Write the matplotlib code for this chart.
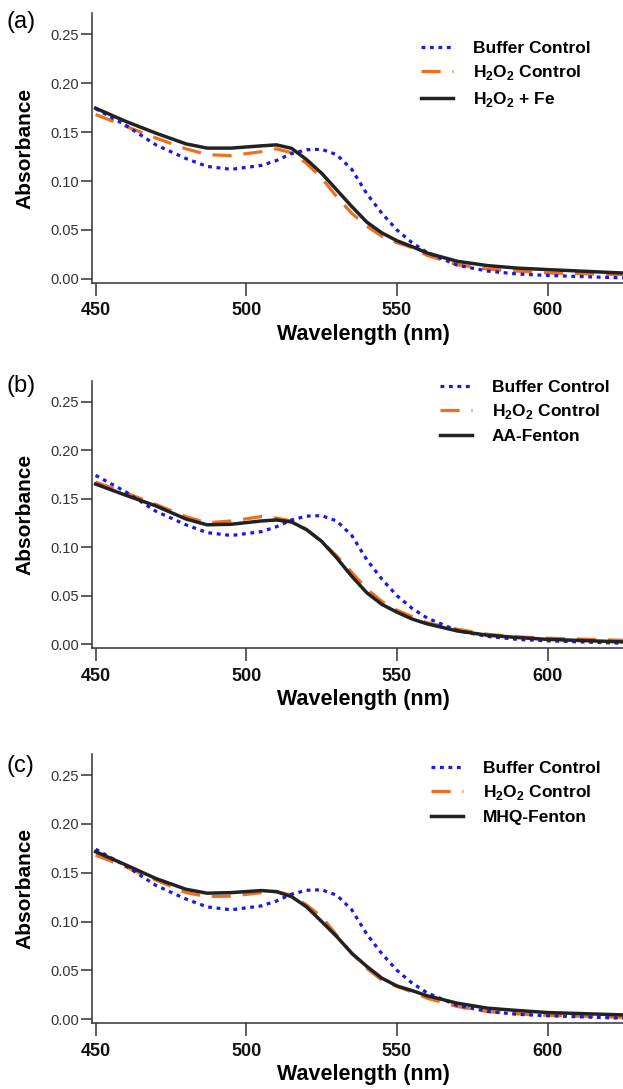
import numpy as np
import matplotlib
matplotlib.use("Agg")
import matplotlib.pyplot as plt

plt.rcParams['font.family'] = ['Liberation Sans', 'DejaVu Sans']
plt.rcParams['mathtext.fontset'] = 'custom'
plt.rcParams['mathtext.rm'] = 'Liberation Sans:bold'
plt.rcParams['mathtext.bf'] = 'Liberation Sans:bold'

# wavelength grid (nm) shared by all traces
wl = [450, 460, 470, 480, 487, 495, 505, 510, 515, 520, 525, 530, 535,
      540, 545, 550, 555, 560, 570, 580, 590, 600, 625]

# buffer control, same in all three panels
buffer_ctrl = [0.174, 0.157, 0.137, 0.123, 0.115, 0.112, 0.116, 0.121, 0.128,
               0.132, 0.1325, 0.127, 0.112, 0.087, 0.067, 0.050, 0.037, 0.027,
               0.014, 0.008, 0.005, 0.0035, 0.001]

# (a)
h2o2_a = [0.168, 0.156, 0.144, 0.133, 0.127, 0.126, 0.130, 0.133, 0.129, 0.118,
          0.103, 0.084, 0.067, 0.054, 0.0435, 0.037, 0.032, 0.024, 0.0146,
          0.010, 0.008, 0.006, 0.0044]
fe_a = [0.1745, 0.161, 0.149, 0.138, 0.1337, 0.1337, 0.136, 0.137, 0.1335, 0.122,
        0.108, 0.091, 0.074, 0.058, 0.047, 0.039, 0.033, 0.0265, 0.018, 0.0136,
        0.011, 0.0095, 0.006]

# (b)
h2o2_b = [0.167, 0.156, 0.144, 0.1315, 0.125, 0.127, 0.1315, 0.130, 0.127, 0.118,
          0.106, 0.091, 0.074, 0.057, 0.044, 0.035, 0.0285, 0.022, 0.0155,
          0.0103, 0.0076, 0.0062, 0.004]
aa_b = [0.165, 0.1535, 0.1425, 0.129, 0.123, 0.1236, 0.127, 0.128, 0.126, 0.118,
        0.106, 0.089, 0.070, 0.053, 0.041, 0.033, 0.026, 0.021, 0.0137, 0.0093,
        0.0069, 0.005, 0.0024]

# (c)
h2o2_c = [0.168, 0.156, 0.1425, 0.1296, 0.1255, 0.126, 0.1296, 0.1306, 0.127,
          0.117, 0.105, 0.086, 0.0675, 0.052, 0.040, 0.0334, 0.028, 0.0215,
          0.013, 0.0078, 0.0055, 0.004, 0.002]
mhq_c = [0.1715, 0.158, 0.144, 0.133, 0.129, 0.1296, 0.1317, 0.1306, 0.1255,
         0.115, 0.100, 0.0846, 0.0675, 0.054, 0.042, 0.034, 0.0293, 0.024,
         0.0164, 0.0113, 0.0089, 0.0068, 0.0044]

panels = [
    ("(a)", h2o2_a, fe_a, r"H$_\mathbf{2}$O$_\mathbf{2}$ + Fe"),
    ("(b)", h2o2_b, aa_b, "AA-Fenton"),
    ("(c)", h2o2_c, mhq_c, "MHQ-Fenton"),
]
h2o2_lbl = r"H$_\mathbf{2}$O$_\mathbf{2}$ Control"

W, H = 623, 1089
fig = plt.figure(figsize=(W / 100, H / 100), dpi=100)

# pixel layout per panel: axes top, axes bottom, legend handle x, first legend row y, tag y
boxes = [(13.3, 283.0, 421, 51, 22),
         (380.7, 648.3, 440, 390, 386),
         (754.0, 1023.3, 431, 771, 766)]
left_px = 91.7
aw = W - left_px

blue = '#1a1ae6'
orange = '#f07020'
black = '#222222'

for (tag, h2o2, sample, sample_lbl), (top, bot, legx, legy, tagy) in zip(panels, boxes):
    ah = bot - top
    ax = fig.add_axes([left_px / W, 1 - bot / H, aw / W, ah / H])
    ax.plot(wl, buffer_ctrl, color=blue, lw=2.3, ls=(0, (1.2, 1.45)),
            label="Buffer Control", zorder=3)
    ax.plot(wl, h2o2, color=orange, lw=2.3, ls=(0, (6.0, 3.7)),
            label=h2o2_lbl, zorder=2)
    ax.plot(wl, sample, color=black, lw=2.5, label=sample_lbl, zorder=4)

    ax.set_xlim(448.7, 625)
    ax.set_ylim(-0.0042, 0.2715)
    ax.set_xticks([450, 500, 550, 600])
    ax.set_yticks([0.00, 0.05, 0.10, 0.15, 0.20, 0.25])
    ax.set_yticklabels(["0.00", "0.05", "0.10", "0.15", "0.20", "0.25"])
    for s in ['top', 'right']:
        ax.spines[s].set_visible(False)
    for s in ['left', 'bottom']:
        ax.spines[s].set_linewidth(1.1)
        ax.spines[s].set_color('#333333')
    ax.tick_params(axis='y', direction='out', length=8, width=1.1,
                   labelsize=10.5, pad=1, colors='#333333', labelcolor='#333333')
    ax.tick_params(axis='x', direction='out', length=9, width=1.1,
                   labelsize=13, pad=5, colors='#333333', labelcolor='#111111')
    for t in ax.get_xticklabels():
        t.set_fontweight('bold')

    ax.set_ylabel("Absorbance", fontsize=15, fontweight='bold')
    ax.yaxis.set_label_coords((34 - left_px) / aw, 0.5)
    ax.set_xlabel("Wavelength (nm)", fontsize=15.5, fontweight='bold', va='top')
    ax.xaxis.set_label_coords((363 - left_px) / aw, -41 / ah)

    leg = ax.legend(loc='upper left',
                    bbox_to_anchor=((legx - left_px) / aw, 1.0 - (legy - 10 - top) / ah),
                    frameon=False, fontsize=12.5, handlelength=1.84,
                    handletextpad=1.13, labelspacing=0.42, borderpad=0,
                    borderaxespad=0)
    for t in leg.get_texts():
        t.set_fontweight('bold')

    fig.text(7 / W, 1 - tagy / H, tag, fontsize=17, va='center', ha='left')

fig.savefig("out.png", dpi=100)
